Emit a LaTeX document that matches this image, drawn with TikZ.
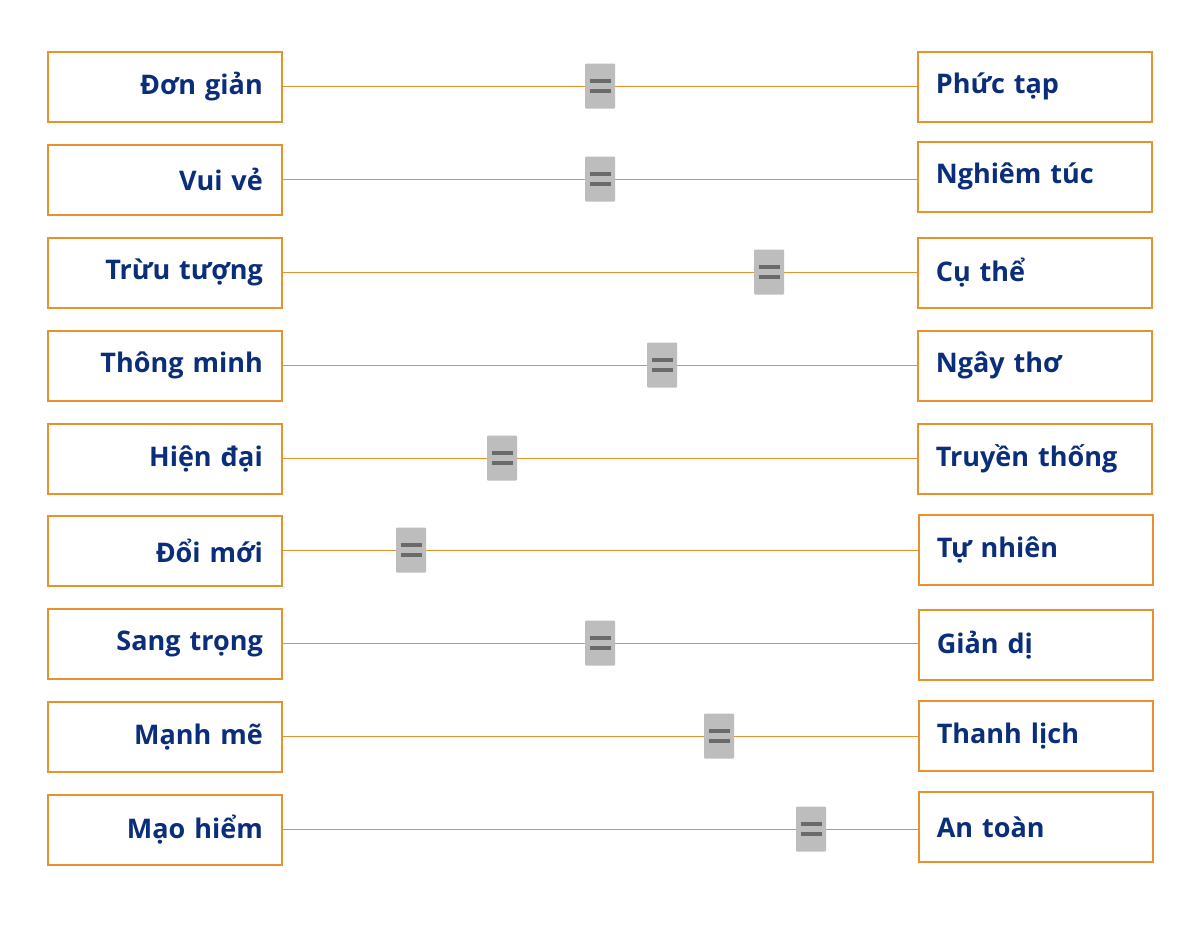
\documentclass[tikz,border=0pt]{standalone}
\usepackage{fontspec}
\setmainfont{Open Sans}
\begin{document}
\begin{tikzpicture}[x=1pt,y=-1pt,
  lbox/.style={draw=boxorange,line width=1.6pt,minimum width=234pt,minimum height=70pt,text width=196pt,align=right,inner sep=0pt,anchor=north west,font=\fontsize{27}{30}\selectfont\bfseries,text=textblue},
  rbox/.style={draw=boxorange,line width=1.6pt,minimum width=234pt,minimum height=70pt,text width=198pt,align=left,inner sep=0pt,anchor=north west,font=\fontsize{27}{30}\selectfont\bfseries,text=textblue},
  conn/.style={draw=boxorange,line width=0.9pt},
  knob/.style={fill=knobgray,minimum width=30pt,minimum height=45pt,inner sep=0pt,rounded corners=1pt},
  dash line/.style={draw=dashgray,line width=3.4pt}]
\definecolor{boxorange}{HTML}{E8922F}
\definecolor{textblue}{HTML}{0B2E7B}
\definecolor{knobgray}{HTML}{BDBDBD}
\definecolor{dashgray}{HTML}{6A6A6A}
\useasboundingbox (0,0) rectangle (1200,929);
\fill[white] (0,0) rectangle (1200,929);
% rows: left y top, right y top, right x left, knob x
\foreach \i/\ly/\ry/\rx/\kx/\lt/\rt in {
  1/51/51/917/600/{Đơn giản}/{Phức tạp},
  2/144/141/917/600/{Vui vẻ}/{Nghiêm túc},
  3/237/237/917/769/{Trừu tượng}/{Cụ thể},
  4/330/330/917/662/{Thông minh}/{Ngây thơ},
  5/423/423/917/502/{Hiện đại}/{Truyền thống},
  6/515/514/918/411/{Đổi mới}/{Tự nhiên},
  7/608/609/918/600/{Sang trọng}/{Giản dị},
  8/701/700/918/719/{Mạnh mẽ}/{Thanh lịch},
  9/794/791/918/811/{Mạo hiểm}/{An toàn}}{
  \node[lbox] (L\i) at (47,\ly) {\lt};
  \node[rbox] (R\i) at (\rx,\ry) {\rt};
  \draw[conn] (L\i.east) -- (L\i.east -| R\i.west);
  \node[knob] (K\i) at (\kx,\ly+35) {};
  \draw[dash line] ([xshift=-10.5pt,yshift=-5pt]K\i.center) -- ([xshift=10.5pt,yshift=-5pt]K\i.center);
  \draw[dash line] ([xshift=-10.5pt,yshift=5pt]K\i.center) -- ([xshift=10.5pt,yshift=5pt]K\i.center);
}
\end{tikzpicture}
\end{document}
